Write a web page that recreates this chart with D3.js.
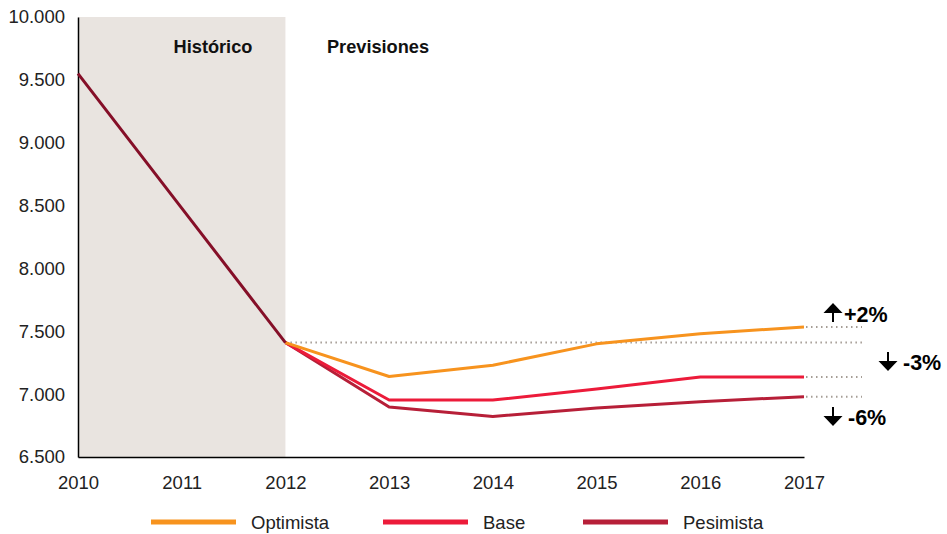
<!DOCTYPE html>
<html><head><meta charset="utf-8">
<script src="https://cdn.jsdelivr.net/npm/d3@7/dist/d3.min.js"></script>
<style>body{margin:0;background:#fff;}svg{display:block;font-family:"Liberation Sans",Arial,Helvetica,sans-serif;}</style>
</head><body>
<svg id="c" width="947" height="534"></svg>
<script>
const years = [2010, 2011, 2012, 2013, 2014, 2015, 2016, 2017];
const yTicks = [6500, 7000, 7500, 8000, 8500, 9000, 9500, 10000];
const histYears = [2010, 2011, 2012];
const histValues = [9550, 8480, 7410];
const foreYears = [2012, 2013, 2014, 2015, 2016, 2017];
const optimista = [7410, 7140, 7230, 7400, 7480, 7535];
const base = [7410, 6953, 6953, 7040, 7136, 7136];
const pesimista = [7410, 6897, 6822, 6890, 6940, 6980];
const seriesNames = ["Optimista", "Base", "Pesimista"];
const seriesColors = ["#f7931e", "#ec1b3a", "#b71f38"];
const changeLabels = ["+2%", "-3%", "-6%"];

const svg = d3.select("#c");
const x = d3.scaleLinear().domain([2010, 2017]).range([78, 804]);
const y = d3.scaleLinear().domain([6500, 10000]).range([457, 17]);
const FS = 18.5;

// historic shading
svg.append("rect").attr("x", x(2010)).attr("y", y(10000))
  .attr("width", x(2012) - x(2010)).attr("height", y(6500) - y(10000))
  .attr("fill", "#e9e4e0");

svg.append("text").attr("x", 213).attr("y", 52.5).attr("text-anchor", "middle")
  .attr("font-size", 18.2).attr("font-weight", "bold").attr("fill", "#111").text("Histórico");
svg.append("text").attr("x", 378).attr("y", 52.5).attr("text-anchor", "middle")
  .attr("font-size", 18.2).attr("font-weight", "bold").attr("fill", "#111").text("Previsiones");

// axes
const yAxis = d3.axisLeft(y).tickValues(yTicks).tickSize(0).tickPadding(13)
  .tickFormat(d => d3.format(",.0f")(d).replace(/,/g, "."));
const gy = svg.append("g").attr("transform", `translate(${x(2010)},0)`).call(yAxis);
gy.select(".domain").attr("stroke", "#000").attr("stroke-width", 1.5);
gy.selectAll("text").attr("font-size", FS).attr("fill", "#222").attr("font-family", "Liberation Sans, Arial, sans-serif");

const xAxis = d3.axisBottom(x).tickValues(years).tickSize(0).tickPadding(19).tickFormat(d3.format("d"));
const gx = svg.append("g").attr("transform", `translate(0,${y(6500)})`).call(xAxis);
gx.select(".domain").attr("stroke", "#000").attr("stroke-width", 1.5);
gx.selectAll("text").attr("font-size", FS).attr("fill", "#222").attr("font-family", "Liberation Sans, Arial, sans-serif");

// dotted reference lines
const dotted = (x1, x2, yy) => svg.append("line").attr("x1", x1).attr("x2", x2)
  .attr("y1", yy).attr("y2", yy).attr("stroke", "#a59d95").attr("stroke-width", 2)
  .attr("stroke-dasharray", "1.5,3.5");
dotted(x(2012), 862, y(histValues[2]));

const line = d3.line().x(d => x(d[0])).y(d => y(d[1]));
const seriesData = [optimista, base, pesimista];
seriesData.forEach((vals, i) => {
  dotted(x(2017) + 2, 862, y(vals[vals.length - 1]));
});
[2, 1, 0].forEach(i => {
  svg.append("path").datum(foreYears.map((yr, j) => [yr, seriesData[i][j]]))
    .attr("d", line).attr("fill", "none").attr("stroke", seriesColors[i])
    .attr("stroke-width", 3).attr("stroke-linejoin", "round");
});
svg.append("path").datum(histYears.map((yr, j) => [yr, histValues[j]]))
  .attr("d", line).attr("fill", "none").attr("stroke", "#850f28").attr("stroke-width", 3);

// arrows
function arrow(cx, top, up) {
  const g = svg.append("g");
  const h = 19, head = 10, hw = 9.5;
  if (up) {
    g.append("path").attr("d", `M${cx},${top} L${cx + hw},${top + head} L${cx - hw},${top + head} Z`).attr("fill", "#000");
    g.append("line").attr("x1", cx).attr("x2", cx).attr("y1", top + head - 1).attr("y2", top + h).attr("stroke", "#000").attr("stroke-width", 2);
  } else {
    g.append("line").attr("x1", cx).attr("x2", cx).attr("y1", top).attr("y2", top + h - head + 1).attr("stroke", "#000").attr("stroke-width", 2);
    g.append("path").attr("d", `M${cx},${top + h} L${cx + hw},${top + h - head} L${cx - hw},${top + h - head} Z`).attr("fill", "#000");
  }
}
arrow(833, 303, true);
arrow(888, 352, false);
arrow(833, 407, false);
const annot = [[844, 322], [903, 370], [848, 425]];
annot.forEach((p, i) => {
  svg.append("text").attr("x", p[0]).attr("y", p[1]).attr("font-size", 21.5).attr("font-weight", "bold")
    .attr("fill", "#000").text(changeLabels[i]);
});

// legend
const legX = [151, 383, 583];
seriesNames.forEach((n, i) => {
  svg.append("line").attr("x1", legX[i]).attr("x2", legX[i] + 85).attr("y1", 522).attr("y2", 522)
    .attr("stroke", seriesColors[i]).attr("stroke-width", 5);
  svg.append("text").attr("x", legX[i] + 100).attr("y", 529).attr("font-size", FS).attr("fill", "#222").text(n);
});
</script>
</body></html>
